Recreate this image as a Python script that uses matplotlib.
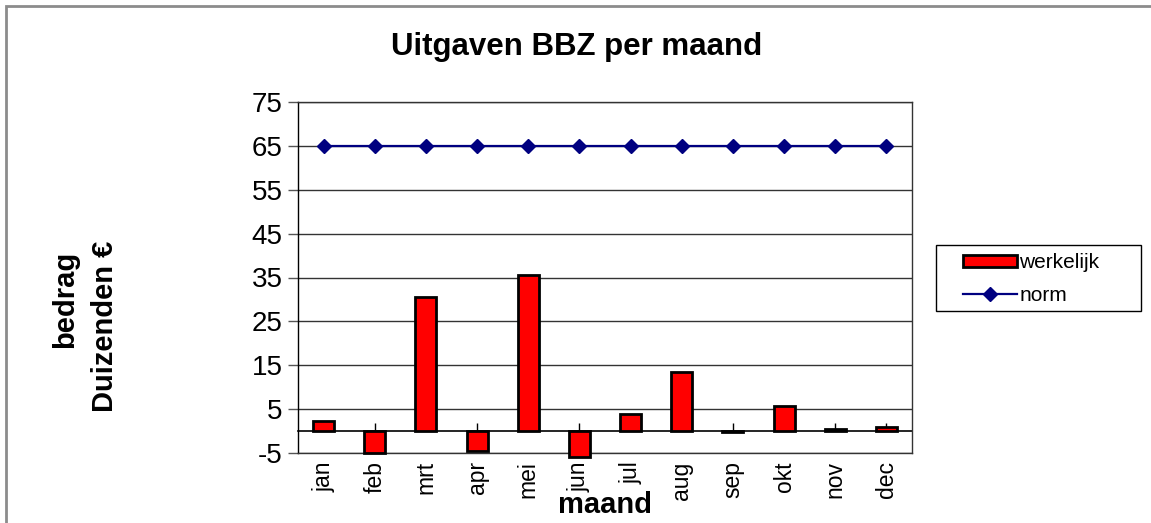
import matplotlib
matplotlib.use("Agg")
import matplotlib.pyplot as plt
from matplotlib.patches import Rectangle

plt.rcParams["font.family"] = ["Liberation Sans", "DejaVu Sans"]

maanden = ["jan", "feb", "mrt", "apr", "mei", "jun", "jul", "aug", "sep", "okt", "nov", "dec"]
werkelijk = [2.2, -4.9, 30.6, -4.5, 35.5, -5.8, 3.8, 13.5, -0.2, 5.8, 0.5, 0.9]
norm = [65] * 12
yticks = [-5, 5, 15, 25, 35, 45, 55, 65, 75]

W, H = 1151, 523
fig = plt.figure(figsize=(W / 100, H / 100), dpi=100)
ax = fig.add_axes([298 / W, 1 - 453 / H, (912 - 298) / W, (453 - 102) / H])

x = list(range(len(maanden)))
bars = ax.bar(x, werkelijk, width=0.41, color="#ff0000", edgecolor="black", linewidth=2,
              clip_on=False, zorder=3, label="werkelijk")
line, = ax.plot(x, norm, color="#000080", lw=1.6, marker="D", markersize=7.5, zorder=4,
                label="norm")

ax.set_xlim(-0.5, 11.5)
ax.set_ylim(-5, 75)
ax.set_yticks(yticks)
ax.set_yticklabels([str(v) for v in yticks], fontsize=20)
ax.tick_params(axis="y", length=7, width=1, color="#555555", pad=4)
ax.grid(axis="y", color="#333333", lw=1, zorder=0)

ax.set_xticks(x)
ax.set_xticklabels(maanden, rotation=90, fontsize=16.5)
ax.tick_params(axis="x", length=0, pad=6)

for s in ax.spines.values():
    s.set_color("#333333")
    s.set_linewidth(1)
ax.spines["left"].set_color("black")

# category axis crossing at zero
sec = ax.secondary_xaxis(0, transform=ax.transData)
sec.set_xticks(x)
sec.set_xticklabels([])
sec.tick_params(direction="in", length=6, width=1, color="black")
sec.spines["bottom"].set_color("black")
sec.spines["bottom"].set_linewidth(1.2)

fig.text(0.5013, 1 - 47 / H, "Uitgaven BBZ per maand", ha="center", va="center",
         fontsize=22.5, fontweight="bold")
fig.text(605 / W, 1 - 505 / H, "maand", ha="center", va="center", fontsize=21, fontweight="bold")
fig.text(65 / W, 1 - 299 / H, "bedrag", ha="center", va="center", rotation=90,
         fontsize=21, fontweight="bold")
fig.text(105 / W, 1 - 326 / H, "Duizenden €", ha="center", va="center", rotation=90,
         fontsize=21, fontweight="bold")

# legend box
fig.patches.append(Rectangle((936 / W, 1 - 311 / H), (1141 - 936) / W, (311 - 245) / H,
                             transform=fig.transFigure, fill=False, edgecolor="black", lw=1))
fig.legend([bars, line], ["werkelijk", "norm"], loc="center left",
           bbox_to_anchor=(963 / W, 1 - 279 / H),
           frameon=False, fontsize=15, handlelength=2.6, handleheight=0.5,
           handletextpad=0.1, labelspacing=0.65, borderpad=0, borderaxespad=0)

# outer chart border (left and top visible)
fig.patches.append(Rectangle((6 / W, -0.1), 1.2, 1.1 - 6 / H, transform=fig.transFigure,
                             fill=False, edgecolor="#8c8c8c", lw=2))

fig.savefig("out.png", dpi=100)
